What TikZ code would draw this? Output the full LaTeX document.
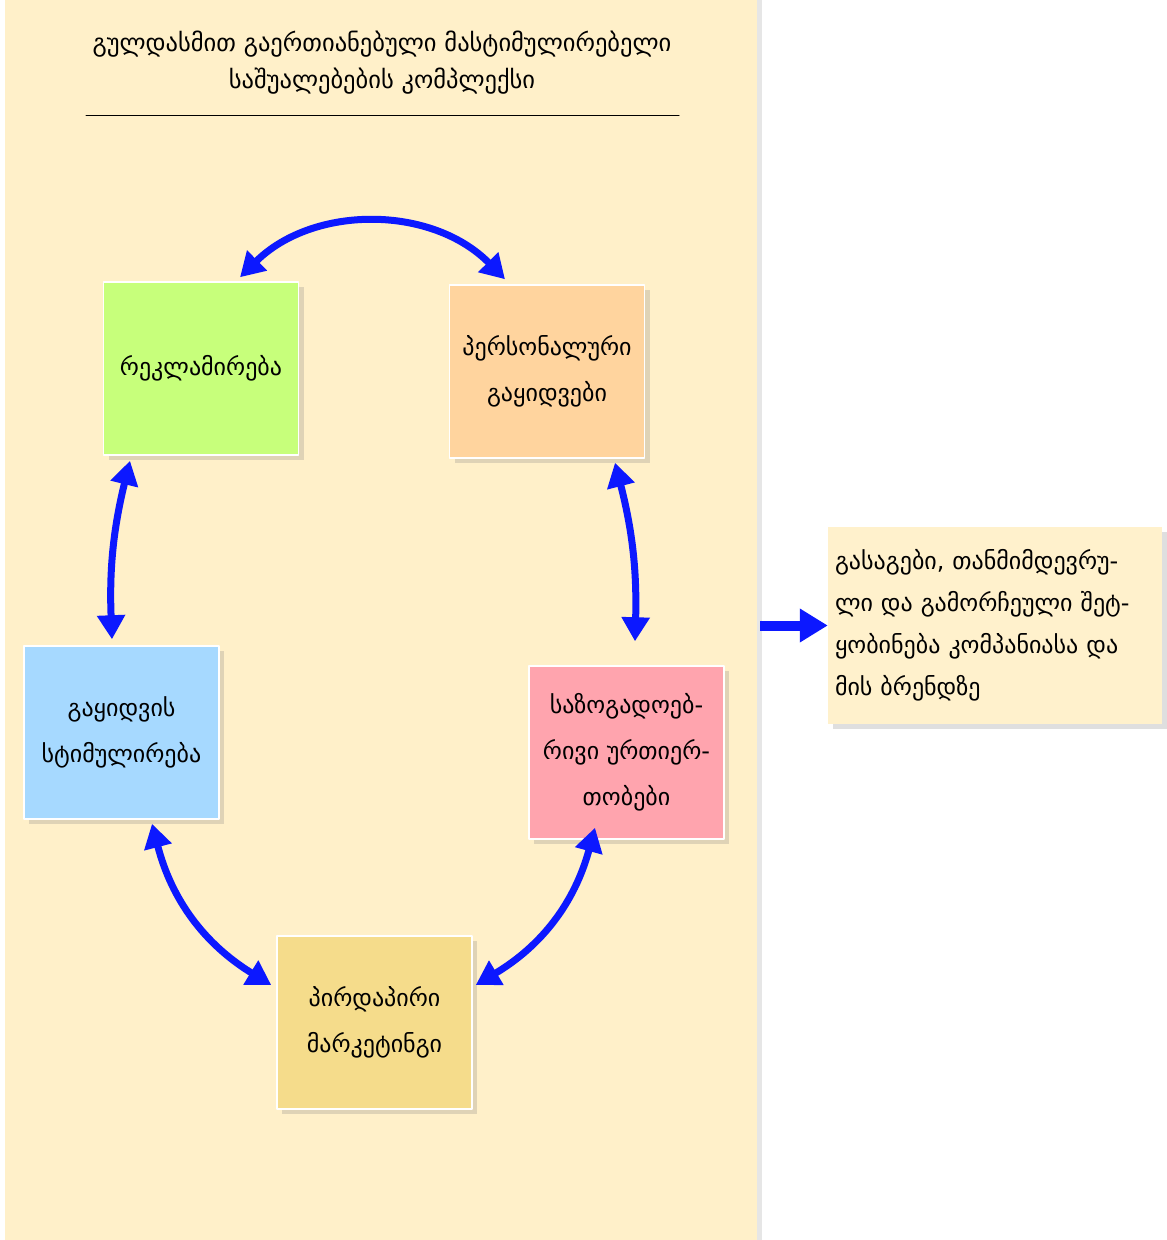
\documentclass[tikz,border=0pt]{standalone}
\usepackage{fontspec}
\newfontfamily\geo{DejaVu Sans}
\usetikzlibrary{arrows.meta,shadows}
\definecolor{panelbg}{RGB}{255,240,201}
\definecolor{msgbg}{RGB}{255,241,204}
\definecolor{adgreen}{RGB}{199,255,123}
\definecolor{sellpeach}{RGB}{255,212,158}
\definecolor{promoblue}{RGB}{166,217,255}
\definecolor{prpink}{RGB}{255,164,174}
\definecolor{directgold}{RGB}{245,220,139}
\definecolor{arrowblue}{RGB}{12,24,255}

\begin{document}
\begin{tikzpicture}[x=1pt, y=1pt, line cap=round, line join=round,
  card/.style={draw=white, line width=1.5pt, minimum width=195pt, minimum height=173pt,
    align=center, inner sep=4pt, font=\geo\fontsize{24}{46}\selectfont,
    drop shadow={shadow xshift=5pt, shadow yshift=-5pt, opacity=0.25}},
  link/.style={draw=arrowblue, line width=7pt,
    {Triangle[width=27pt,length=24pt]}-{Triangle[width=27pt,length=24pt]}},
  push/.style={draw=arrowblue, line width=10pt, line cap=butt, -{Triangle[width=32pt,length=28pt]}}]
\useasboundingbox (0,0) rectangle (1167,-1240);

\node[fill=panelbg, minimum width=752pt, minimum height=1240pt, inner sep=0pt,
  drop shadow={shadow xshift=5pt, shadow yshift=0pt, opacity=0.2}] (panel) at (381,-620) {};

\node[font=\geo\fontsize{24.5}{37}\selectfont, align=center] (title) at (382,-63)
  {გულდასმით გაერთიანებული მასტიმულირებელი\\საშუალებების კომპლექსი};
\coordinate (rule l) at (86,-115);
\coordinate (rule r) at (679,-115);
\draw[line width=1pt] (rule l) -- (rule r);

\node[card, fill=adgreen] (rek) at (201,-368.5) {რეკლამირება};
\node[card, fill=sellpeach] (pers) at (547,-371.5) {პერსონალური\\გაყიდვები};
\node[card, fill=promoblue] (gay) at (121.5,-732.5) {გაყიდვის\\სტიმულირება};
\node[card, fill=prpink] (saz) at (626.5,-752.5) {საზოგადოებ-\\რივი ურთიერ-\\თობები};
\node[card, fill=directgold] (pir) at (374.5,-1022.5) {პირდაპირი\\მარკეტინგი};

\node[fill=msgbg, text width=320pt, minimum height=197pt, inner sep=7pt, align=left,
  font=\geo\fontsize{24}{42}\selectfont,
  drop shadow={shadow xshift=5pt, shadow yshift=-5pt, opacity=0.25}] (msg) at (995,-625.5)
  {გასაგები, თანმიმდევრუ-\\ლი და გამორჩეული შეტ-\\ყობინება კომპანიასა და\\მის ბრენდზე};

\draw[link] ([shift={(39,4)}]rek.north) to[bend left=45] ([shift={(-42,5)}]pers.north);
\draw[link] ([shift={(-71,-5)}]rek.south) to[bend right=8] ([shift={(-9.5,6)}]gay.north);
\draw[link] ([shift={(68,-4)}]pers.south) to[bend left=8] ([shift={(8.5,24)}]saz.north);
\draw[link] ([shift={(30.5,-4)}]gay.south) to[bend right=22] ([shift={(-5,37.5)}]pir.west);
\draw[link] ([shift={(-31.5,12)}]saz.south) to[bend left=22] ([shift={(3,37.5)}]pir.east);
\draw[push] ([xshift=3pt]panel.east |- msg.west) -- (msg.west);
\end{tikzpicture}
\end{document}
